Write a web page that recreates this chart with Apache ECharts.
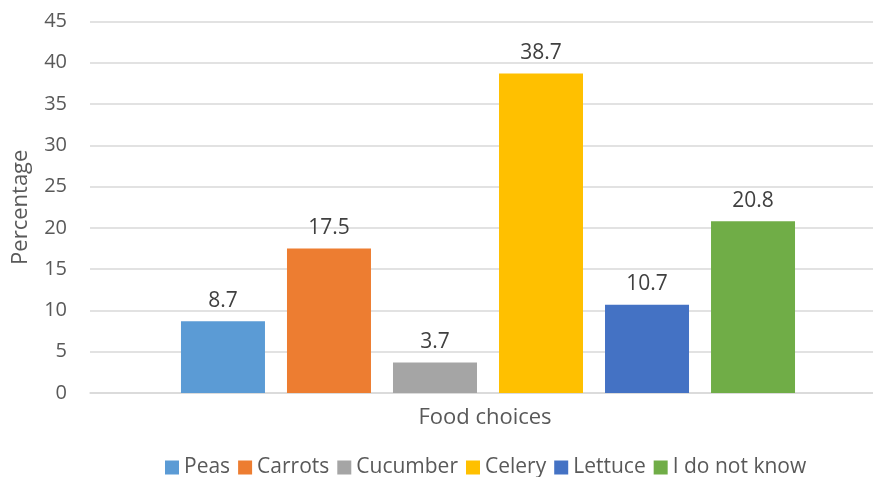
<!DOCTYPE html>
<html>
<head>
<meta charset="utf-8">
<style>
  html, body { margin: 0; padding: 0; background: #fff; }
  #chart { width: 873px; height: 477px; }
</style>
<script src="https://cdn.jsdelivr.net/npm/echarts@6/dist/echarts.min.js"></script>
</head>
<body>
<div id="chart"></div>
<script>
// Survey answers: share of respondents per food choice (%)
const categories = [''];
const seriesNames = ['Peas', 'Carrots', 'Cucumber', 'Celery', 'Lettuce', 'I do not know'];
const seriesValues = [8.7, 17.5, 3.7, 38.7, 10.7, 20.8];
const seriesColors = ['#5B9BD5', '#ED7D31', '#A5A5A5', '#FFC000', '#4472C4', '#70AD47'];
const yTicks = { min: 0, max: 45, interval: 5 };

const FONT = 'Open Sans';
const chart = echarts.init(document.getElementById('chart'), null, { renderer: 'canvas' });

const series = seriesNames.map((name, i) => ({
  name: name,
  type: 'bar',
  data: [seriesValues[i]],
  barWidth: 84,
  barGap: '26.2%',
  itemStyle: { color: seriesColors[i] },
  label: {
    show: true,
    position: 'top',
    distance: 10,
    color: '#404040',
    fontFamily: FONT,
    fontSize: 21,
    formatter: (p) => p.value.toFixed(1)
  }
}));

chart.setOption({
  animation: false,
  backgroundColor: '#fff',
  // plot area runs past the right edge of the canvas
  grid: { left: 90, width: 796, top: 21.5, bottom: 84, containLabel: false, outerBoundsMode: 'none' },
  xAxis: {
    type: 'category',
    data: categories,
    name: 'Food choices',
    nameLocation: 'middle',
    nameGap: 14,
    nameTextStyle: { color: '#595959', fontFamily: FONT, fontSize: 22, verticalAlign: 'top', padding: [0, 6, 0, 0] },
    axisLine: { lineStyle: { color: '#D9D9D9', width: 1.5 } },
    axisTick: { show: false },
    axisLabel: { show: false }
  },
  yAxis: {
    type: 'value',
    min: yTicks.min,
    max: yTicks.max,
    interval: yTicks.interval,
    name: 'Percentage',
    nameLocation: 'middle',
    nameGap: 58,
    nameTextStyle: { color: '#595959', fontFamily: FONT, fontSize: 22 },
    axisLine: { show: false },
    axisTick: { show: false },
    axisLabel: { color: '#595959', fontFamily: FONT, fontSize: 20, margin: 23 },
    splitLine: { lineStyle: { color: '#D9D9D9', width: 1.5 } }
  },
  legend: {
    data: seriesNames,
    top: 452,
    left: 160,
    icon: 'rect',
    itemWidth: 14,
    itemHeight: 14,
    itemGap: 8,
    textStyle: { color: '#595959', fontFamily: FONT, fontSize: 21 }
  },
  series: series
});
</script>
</body>
</html>
